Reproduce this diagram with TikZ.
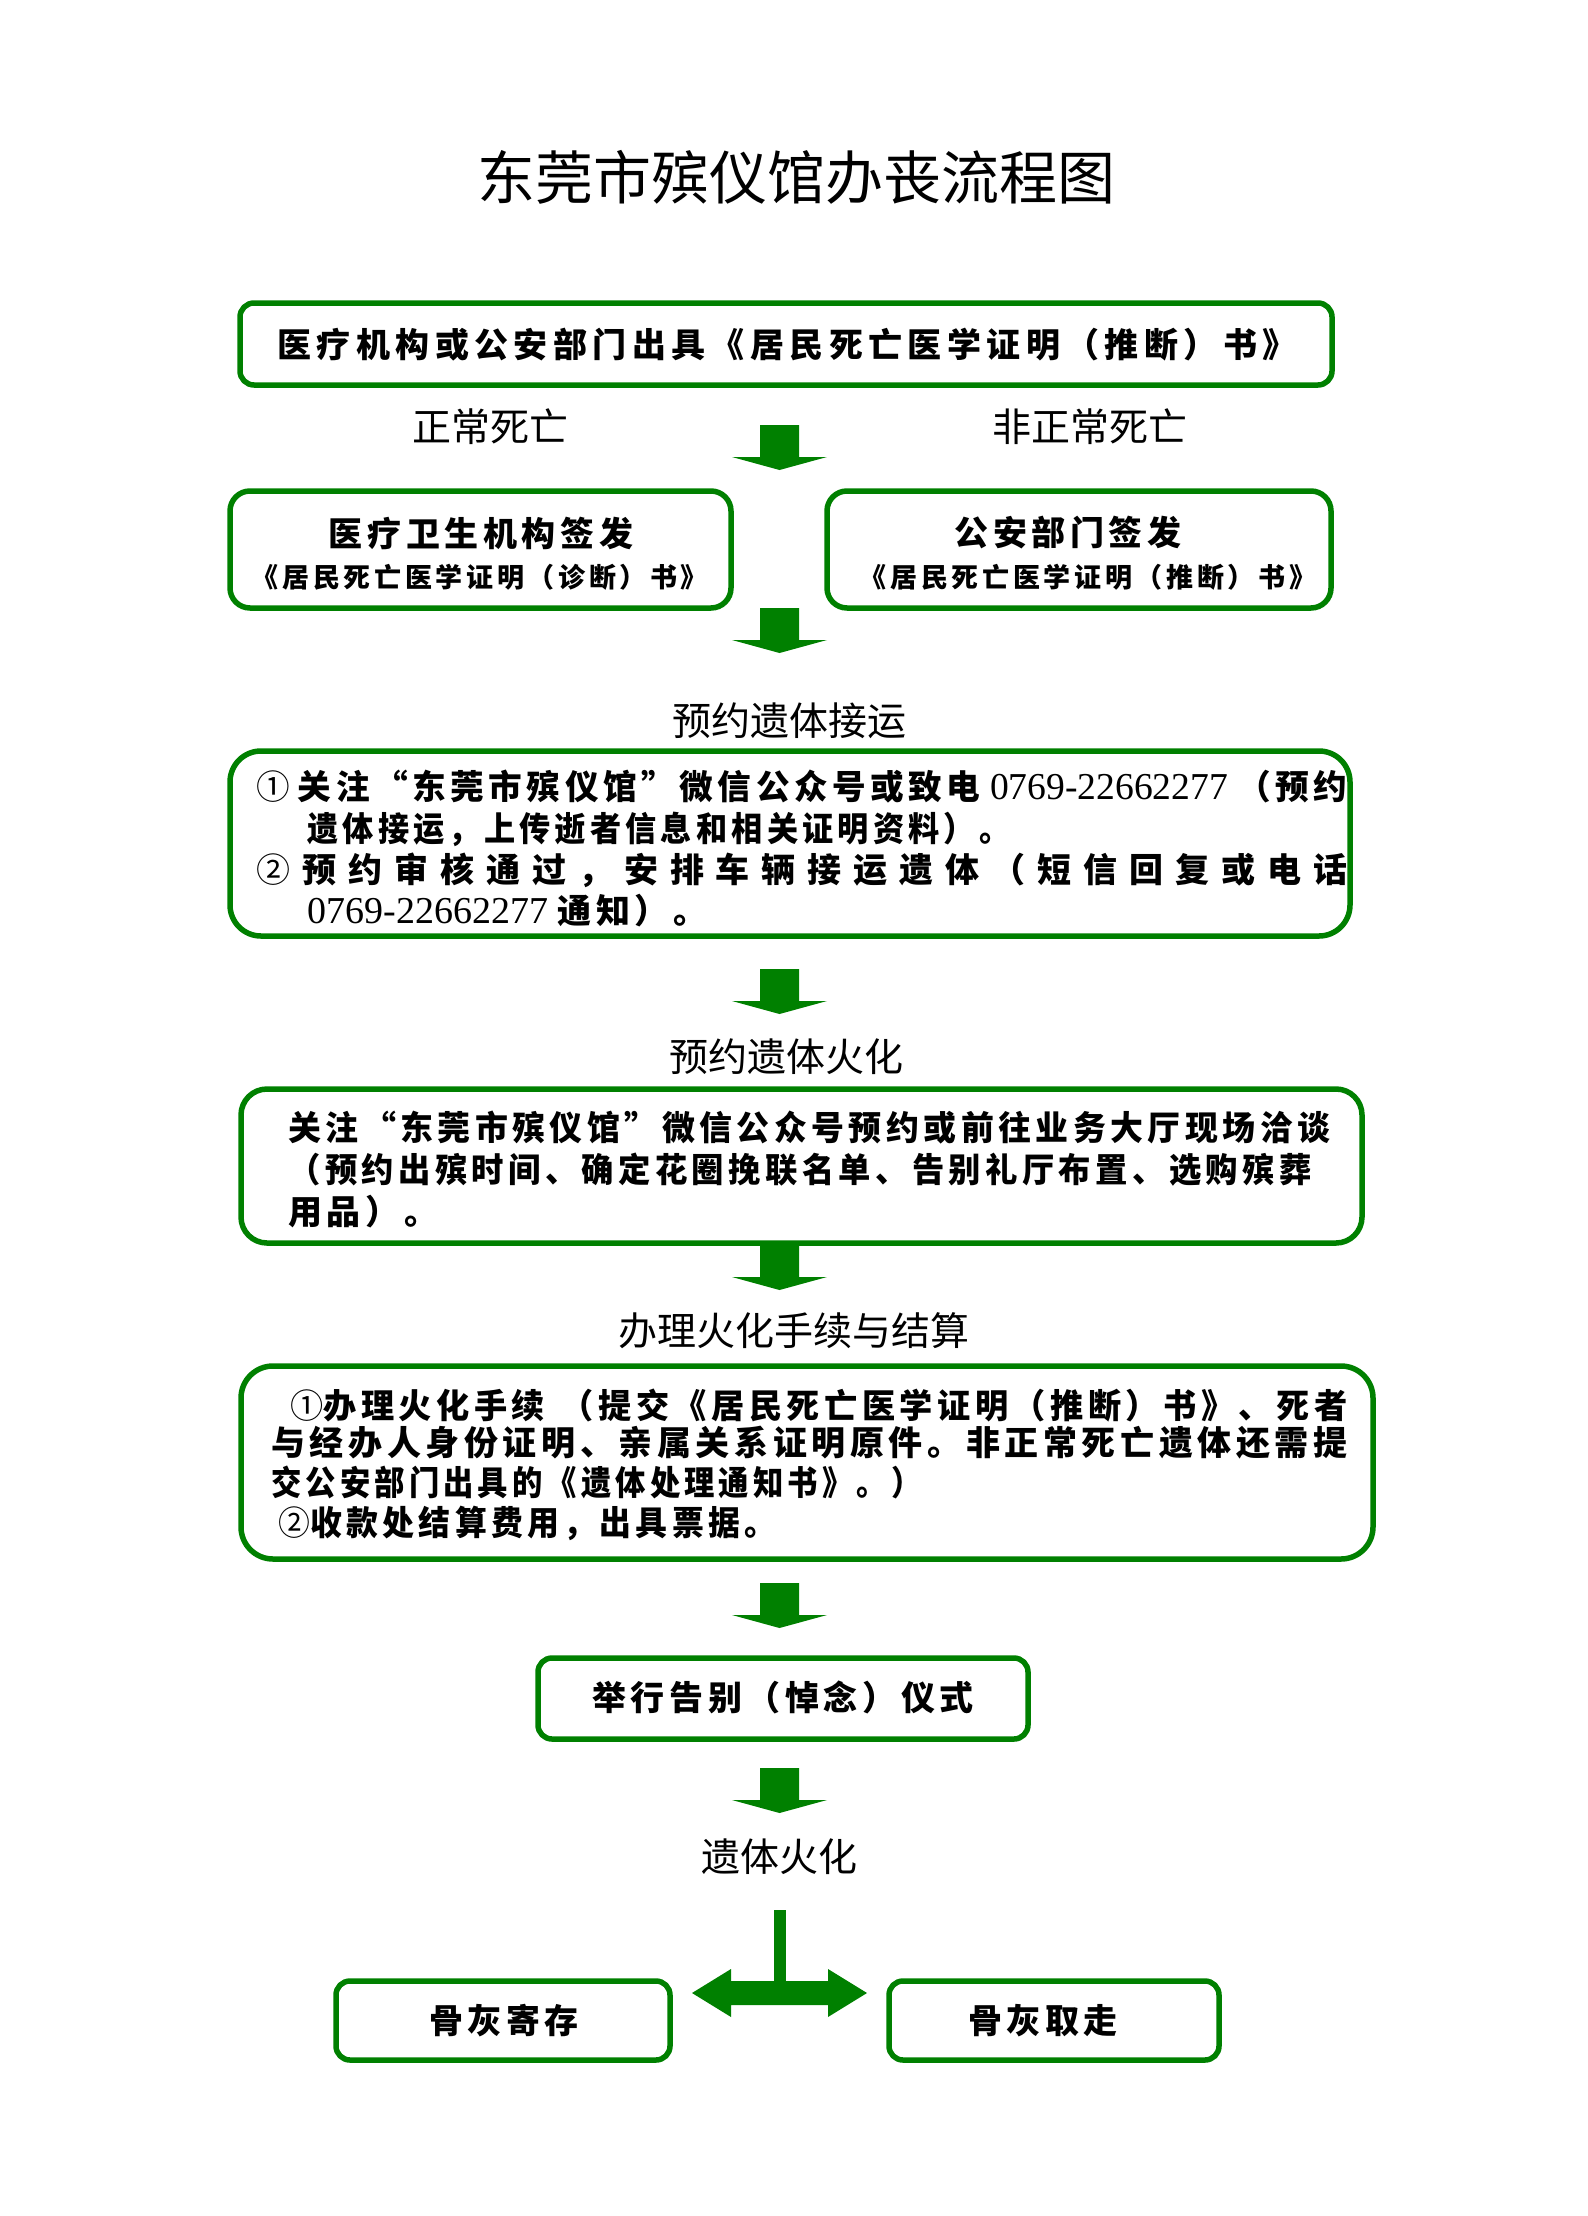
\documentclass[tikz,border=0pt]{standalone}
\usepackage{fontspec}
\usepackage{graphicx}
\usetikzlibrary{fit}
\setmainfont{Liberation Serif}
\newfontfamily\cjk{Noto Sans CJK SC}
\newfontfamily\cjkb{Noto Sans CJK SC}[LetterSpace=13.5]
\definecolor{gr}{RGB}{0,128,0}
\def\spreadend{\spreadend}
\def\spreadfirst#1{{#1}\spreadrest}
\def\spreadrest#1{\ifx\spreadend#1\else\hfil{#1}\expandafter\spreadrest\fi}
\newsavebox\fitbox
\newcommand\fitline[2]{\sbox\fitbox{#2}\ifdim\wd\fitbox>#1\relax\resizebox{#1}{\height}{\usebox\fitbox}\else\makebox[#1][s]{\spreadfirst#2\spreadend}\fi}
\newcommand\cnum[1]{{\cjk\mdseries #1}}
\newcommand\dig[1]{{\normalfont\fontsize{19pt}{20pt}\selectfont #1}}
\tikzset{
  box/.style={draw=gr, line width=2.75pt, inner sep=0pt},
  hd/.style={font=\cjk\fontsize{19.5pt}{23pt}\selectfont, inner sep=0pt},
  ttl/.style={font=\cjk\fontsize{29pt}{34pt}\selectfont, inner sep=0pt},
  bt/.style={font=\cjkb\bfseries\fontsize{17pt}{20pt}\selectfont, inner sep=0pt},
  bts/.style={font=\cjkb\bfseries\fontsize{13.5pt}{16pt}\selectfont, inner sep=0pt},
  darrow/.pic={\fill[gr] (-19.5,0) -- (19.5,0) -- (19.5,32) -- (47.5,32) -- (0,45) -- (-47.5,32) -- (-19.5,32) -- cycle;}
}
\begin{document}
\begin{tikzpicture}[x=0.5pt,y=-0.5pt]
\useasboundingbox (0,0) rectangle (1587,2216);
\node[ttl] (title) at (796,177) {东莞市殡仪馆办丧流程图};

% box 1
\node[box, rounded corners=7pt, fit={(240,303) (1332,385)}] (b1) {};
\node[bt] (t1) at (787,345) {\fitline{509.5pt}{医疗机构或公安部门出具《居民死亡医学证明（推断）书》}};
\node[hd] (normal) at (490,427) {正常死亡};
\node[hd] (abnormal) at (1090,427) {非正常死亡};
\pic at (779.5,425) {darrow};

% box 2
\node[box, rounded corners=10pt, fit={(230,491) (731,608)}] (b2l) {};
\node[box, rounded corners=10pt, fit={(827,491) (1331,608)}] (b2r) {};
\node[bt] (t2la) at (481,533) {医疗卫生机构签发};
\node[bts] (t2lb) at (480,577) {《居民死亡医学证明（诊断）书》};
\node[bt] (t2ra) at (1068,533) {公安部门签发};
\node[bts] (t2rb) at (1088,577) {《居民死亡医学证明（推断）书》};
\pic at (779.5,608) {darrow};

% box 3
\node[hd] (h3) at (789,721) {预约遗体接运};
\node[box, rounded corners=15.5pt, fit={(230,751) (1350,936)}] (b3) {};
\node[bt, anchor=west] (t3a) at (256,787) {\fitline{545.5pt}{{\cnum{①}\hspace{4pt}}关注“东莞市殡仪馆”微信公众号或致电{\dig{\ 0769-22662277\ }}（预约}};
\node[bt, anchor=west] (t3b) at (307,829) {\fitline{351.5pt}{遗体接运，上传逝者信息和相关证明资料）。}};
\node[bt, anchor=west] (t3c) at (256,870) {\fitline{545.5pt}{{\cnum{②}}预约审核通过，安排车辆接运遗体（短信回复或电话}};
\node[bt, anchor=west] (t3d) at (307,911) {\dig{0769-22662277 }通知）。};
\pic at (779.5,969) {darrow};

% box 4
\node[hd] (h4) at (786,1057) {预约遗体火化};
\node[box, rounded corners=13pt, fit={(241,1089) (1362,1243)}] (b4) {};
\node[bt, anchor=west] (t4a) at (288,1128) {\fitline{521pt}{关注“东莞市殡仪馆”微信公众号预约或前往业务大厅现场洽谈}};
\node[bt, anchor=west] (t4b) at (288,1170) {\fitline{511.5pt}{（预约出殡时间、确定花圈挽联名单、告别礼厅布置、选购殡葬}};
\node[bt, anchor=west] (t4c) at (288,1212) {用品）。};
\pic at (779.5,1245) {darrow};

% box 5
\node[hd] (h5) at (794,1331) {办理火化手续与结算};
\node[box, rounded corners=16pt, fit={(241,1366) (1373,1559)}] (b5) {};
\node[bt, anchor=west] (t5a) at (290,1406) {\fitline{528.5pt}{{\cnum{①}}办理火化手续\hspace{8pt}（提交《居民死亡医学证明（推断）书》、死者}};
\node[bt, anchor=west] (t5b) at (271,1443) {\fitline{538pt}{与经办人身份证明、亲属关系证明原件。非正常死亡遗体还需提}};
\node[bt, anchor=west] (t5c) at (271,1482) {\fitline{325pt}{交公安部门出具的《遗体处理通知书》。）}};
\node[bt, anchor=west] (t5d) at (278,1523) {\fitline{249pt}{{\cnum{②}}收款处结算费用，出具票据。}};
\pic at (779.5,1583) {darrow};

% box 6
\node[box, rounded corners=7pt, fit={(538,1658) (1028,1739)}] (b6) {};
\node[bt] (t6) at (783,1697) {举行告别（悼念）仪式};
\pic at (779.5,1768) {darrow};

\node[hd] (h7) at (779,1857) {遗体火化};

% split
\fill[gr] (774,1910) rectangle (786,1993);
\fill[gr] (692,1993) -- (731,1969) -- (731,1981) -- (828,1981) -- (828,1969) -- (867,1993) -- (828,2017) -- (828,2005) -- (731,2005) -- (731,2017) -- cycle;

\node[box, rounded corners=7pt, fit={(336,1981) (670,2060)}] (b7l) {};
\node[box, rounded corners=7pt, fit={(889,1981) (1219,2060)}] (b7r) {};
\node[bt] (t7l) at (504,2021) {骨灰寄存};
\node[bt] (t7r) at (1043,2021) {骨灰取走};
\end{tikzpicture}
\end{document}
